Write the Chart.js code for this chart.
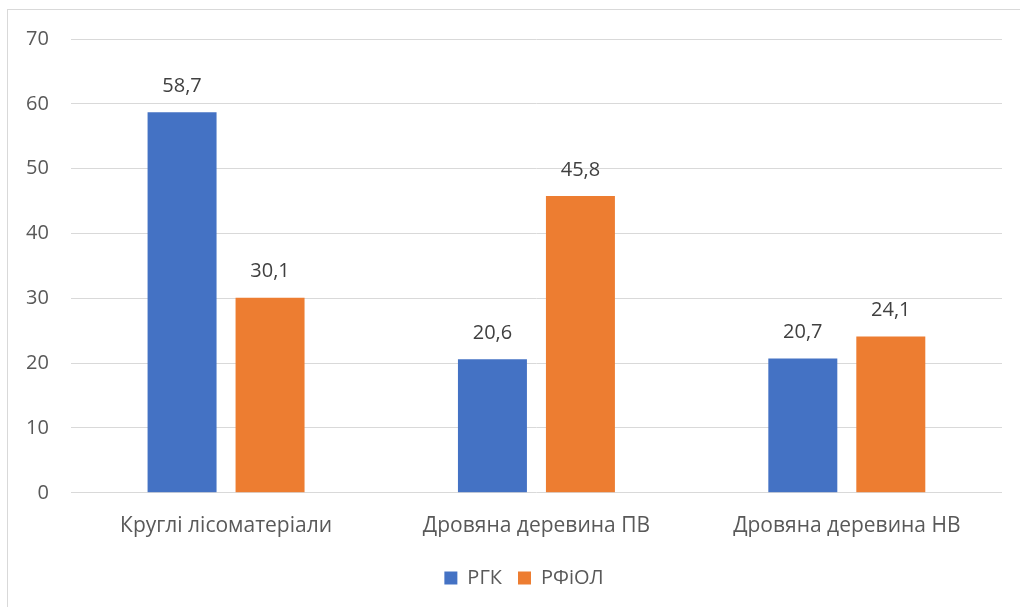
<!DOCTYPE html>
<html>
<head>
<meta charset="utf-8">
<script src="https://cdn.jsdelivr.net/npm/chart.js@4.4.0/dist/chart.umd.min.js"></script>
<style>
  html, body { margin: 0; padding: 0; background: #fff; overflow: hidden; }
  canvas { display: block; }
</style>
</head>
<body>
<canvas id="chart" width="1020" height="607"></canvas>
<script>
// categories and series
const categories = ["Круглі лісоматеріали", "Дровяна деревина ПВ", "Дровяна деревина НВ"];
const rgk = [58.7, 20.6, 20.7];
const rfiol = [30.1, 45.8, 24.1];
const seriesNames = ["РГК", "РФіОЛ"];

const fontFamily = "'Open Sans', 'Noto Sans', sans-serif";
const textColor = "#595959";

// chart frame, only top and left edges are inside the picture
const framePlugin = {
    id: "frame",
    beforeDraw(chart) {
        const ctx = chart.ctx;
        ctx.save();
        ctx.fillStyle = "#fff";
        ctx.fillRect(0, 0, chart.width, chart.height);
        ctx.strokeStyle = "#d9d9d9";
        ctx.lineWidth = 1;
        ctx.strokeRect(7.5, 9.5, chart.width + 20, chart.height + 20);
        ctx.restore();
    }
};

// the original frame runs past the right edge, so its legend sits a bit right of centre
const legendShift = {
    id: "legendShift",
    afterLayout(chart) {
        chart.legend.left += 21;
        chart.legend.right += 21;
    }
};

// value labels above each bar, with a decimal comma
const valueLabels = {
    id: "valueLabels",
    afterDatasetsDraw(chart) {
        const ctx = chart.ctx;
        ctx.save();
        ctx.font = "20px " + fontFamily;
        ctx.fillStyle = "#404040";
        ctx.textAlign = "center";
        ctx.textBaseline = "middle";
        chart.data.datasets.forEach((ds, i) => {
            const meta = chart.getDatasetMeta(i);
            meta.data.forEach((bar, j) => {
                const txt = ds.data[j].toFixed(1).replace(".", ",");
                ctx.fillText(txt, bar.x, bar.y - 26);
            });
        });
        ctx.restore();
    }
};

new Chart(document.getElementById("chart"), {
    type: "bar",
    data: {
        labels: categories,
        datasets: [
            {
                label: seriesNames[0],
                data: rgk,
                backgroundColor: "#4472c4",
                categoryPercentage: 0.567,
                barPercentage: 0.784
            },
            {
                label: seriesNames[1],
                data: rfiol,
                backgroundColor: "#ed7d31",
                categoryPercentage: 0.567,
                barPercentage: 0.784
            }
        ]
    },
    options: {
        responsive: false,
        animation: false,
        devicePixelRatio: 1,
        layout: { padding: { left: 4, right: 18, top: 39, bottom: 9 } },
        plugins: {
            legend: {
                position: "bottom",
                labels: {
                    boxWidth: 13,
                    boxHeight: 13,
                    color: textColor,
                    font: { family: fontFamily, size: 20 },
                    padding: 16
                }
            },
            tooltip: { enabled: false }
        },
        scales: {
            x: {
                grid: { display: false },
                border: { display: false },
                ticks: {
                    color: textColor,
                    font: { family: fontFamily, size: 21 },
                    padding: 13
                }
            },
            y: {
                min: 0,
                max: 70,
                ticks: {
                    stepSize: 10,
                    color: textColor,
                    font: { family: fontFamily, size: 20 },
                    padding: 22
                },
                grid: { color: "#d9d9d9", drawTicks: false },
                border: { display: false }
            }
        }
    },
    plugins: [framePlugin, legendShift, valueLabels]
});
</script>
</body>
</html>
